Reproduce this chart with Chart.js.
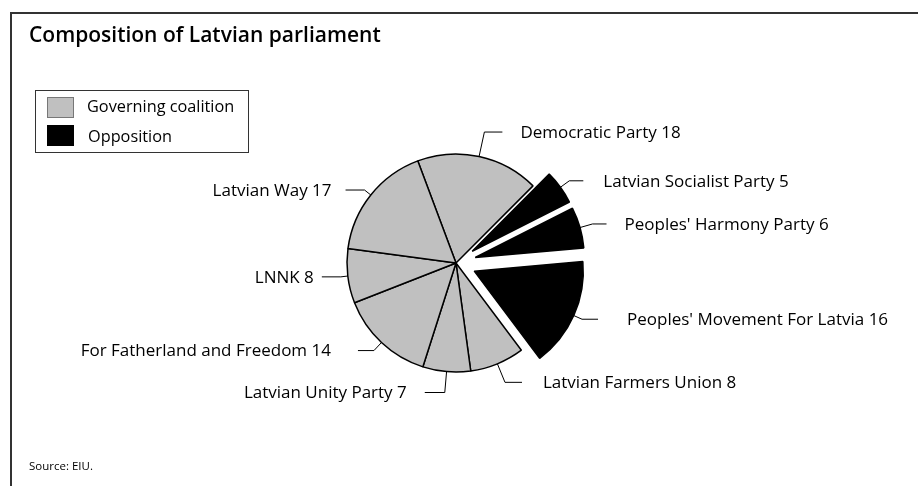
<!DOCTYPE html>
<html>
<head>
<meta charset="utf-8">
<title>Composition of Latvian parliament</title>
<script src="https://cdn.jsdelivr.net/npm/chart.js@4.4.1/dist/chart.umd.min.js"></script>
<style>
  html, body { margin: 0; padding: 0; background: #fff; }
  canvas { display: block; }
</style>
</head>
<body>
<canvas id="parliamentChart" width="918" height="486"></canvas>
<script>
// Seats per party, clockwise from the top
const parties = ['Democratic Party', 'Latvian Socialist Party', "Peoples' Harmony Party", "Peoples' Movement For Latvia",
  'Latvian Farmers Union', 'Latvian Unity Party', 'For Fatherland and Freedom', 'LNNK', 'Latvian Way'];
const seats = [18, 5, 6, 16, 8, 7, 14, 8, 17];
const bloc = ['coalition', 'opposition', 'opposition', 'opposition', 'coalition', 'coalition', 'coalition', 'coalition', 'coalition'];
const blocNames = ['Governing coalition', 'Opposition'];

// label leader lines: radial stub, horizontal run, gap before the text
const leaderOut = [25, 11, 13, 9, 20, 21, 11, 7, 8];
const leaderRun = [18, 14, 14, 16, 17, 20, 16, 19, 19];
const labelGap = [18, 20, 18, 29, 21, 18, 27, 8, 14];

const blocColor = { coalition: '#c0c0c0', opposition: '#000000' };
const explodeBy = { coalition: 0, opposition: 20 };

document.addEventListener('DOMContentLoaded', function() {
  Chart.defaults.font.family = "'Open Sans', sans-serif";
  Chart.defaults.color = '#000';

  const framePlugin = {
    id: 'frame',
    beforeDraw(chart) {
      const c = chart.ctx;
      c.save();
      c.fillStyle = '#fff';
      c.fillRect(0, 0, chart.width, chart.height);
      c.strokeStyle = '#333';
      c.lineWidth = 2;
      c.beginPath();
      c.moveTo(11, chart.height);
      c.lineTo(11, 13);
      c.lineTo(chart.width, 13);
      c.stroke();
      c.restore();
    }
  };

  // pull the opposition slices out from the centre
  const explodePlugin = {
    id: 'explode',
    afterUpdate(chart) {
      chart.getDatasetMeta(0).data.forEach((arc, i) => {
        const d = explodeBy[bloc[i]];
        if (!d) return;
        const mid = (arc.startAngle + arc.endAngle) / 2;
        arc.x += Math.cos(mid) * d;
        arc.y += Math.sin(mid) * d;
      });
    }
  };

  const labelPlugin = {
    id: 'sliceLabels',
    afterDatasetsDraw(chart) {
      const c = chart.ctx;
      c.save();
      c.strokeStyle = '#000';
      c.fillStyle = '#000';
      c.lineWidth = 1;
      c.font = "17px 'Open Sans'";
      c.textBaseline = 'middle';
      chart.getDatasetMeta(0).data.forEach((arc, i) => {
        const mid = (arc.startAngle + arc.endAngle) / 2;
        const r = arc.outerRadius;
        const cos = Math.cos(mid), sin = Math.sin(mid);
        const x0 = arc.x + cos * r, y0 = arc.y + sin * r;
        const x1 = arc.x + cos * (r + leaderOut[i]), y1 = arc.y + sin * (r + leaderOut[i]);
        const dir = cos >= 0 ? 1 : -1;
        const x2 = x1 + dir * leaderRun[i];
        c.beginPath();
        c.moveTo(x0, y0);
        c.lineTo(x1, y1);
        c.lineTo(x2, y1);
        c.stroke();
        c.textAlign = dir > 0 ? 'left' : 'right';
        c.fillText(parties[i] + ' ' + seats[i], x2 + dir * labelGap[i], y1 + 1);
      });
      c.restore();
    }
  };

  const legendPlugin = {
    id: 'blocLegend',
    afterDraw(chart) {
      const c = chart.ctx;
      c.save();
      c.strokeStyle = '#333';
      c.lineWidth = 1;
      c.strokeRect(35.5, 90.5, 213, 62);
      c.font = "16.3px 'Open Sans'";
      c.textBaseline = 'middle';
      c.textAlign = 'left';
      ['coalition', 'opposition'].forEach((b, k) => {
        const top = 97 + k * 28;
        c.fillStyle = blocColor[b];
        c.fillRect(47, top, 27, 21);
        c.strokeStyle = b === 'coalition' ? '#777' : '#000';
        c.strokeRect(47.5, top + 0.5, 26, 20);
        c.fillStyle = '#000';
        c.fillText(blocNames[k], 87 + k, top + 10 + k * 2);
      });
      c.restore();
    }
  };

  const ctx = document.getElementById('parliamentChart').getContext('2d');
  new Chart(ctx, {
    type: 'pie',
    data: {
      labels: parties,
      datasets: [{
        data: seats,
        backgroundColor: bloc.map(b => blocColor[b]),
        borderColor: '#000',
        borderWidth: 1.5
      }]
    },
    options: {
      responsive: false,
      animation: false,
      events: [],
      rotation: -20.5,
      radius: 109,
      layout: {
        padding: { left: 29, right: 35, top: 12, bottom: 6 }
      },
      plugins: {
        legend: { display: false },
        tooltip: { enabled: false },
        title: {
          display: true,
          text: 'Composition of Latvian parliament',
          align: 'start',
          font: { size: 21, weight: 600 },
          padding: { top: 11.4, bottom: 17.6 }
        },
        subtitle: {
          display: true,
          text: 'Source: EIU.',
          position: 'bottom',
          align: 'start',
          font: { size: 11.5 },
          padding: { top: 0, bottom: 6.4 }
        }
      }
    },
    plugins: [framePlugin, explodePlugin, labelPlugin, legendPlugin]
  });
});
</script>
</body>
</html>
